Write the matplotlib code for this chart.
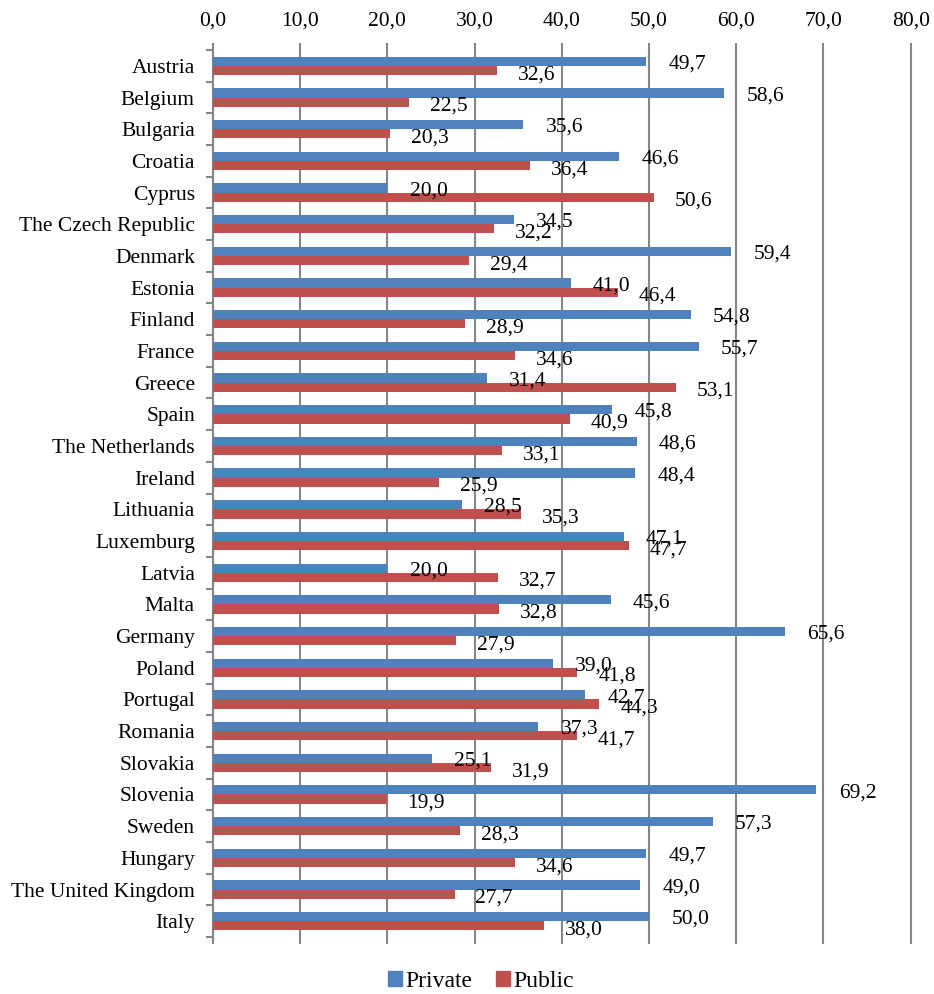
import numpy as np
import matplotlib
matplotlib.use("Agg")
import matplotlib.pyplot as plt
from matplotlib.patches import Patch

countries = ["Austria", "Belgium", "Bulgaria", "Croatia", "Cyprus", "The Czech Republic",
             "Denmark", "Estonia", "Finland", "France", "Greece", "Spain", "The Netherlands",
             "Ireland", "Lithuania", "Luxemburg", "Latvia", "Malta", "Germany", "Poland",
             "Portugal", "Romania", "Slovakia", "Slovenia", "Sweden", "Hungary",
             "The United Kingdom", "Italy"]
private = [49.7, 58.6, 35.6, 46.6, 20.0, 34.5, 59.4, 41.0, 54.8, 55.7, 31.4, 45.8, 48.6,
           48.4, 28.5, 47.1, 20.0, 45.6, 65.6, 39.0, 42.7, 37.3, 25.1, 69.2, 57.3, 49.7,
           49.0, 50.0]
public = [32.6, 22.5, 20.3, 36.4, 50.6, 32.2, 29.4, 46.4, 28.9, 34.6, 53.1, 40.9, 33.1,
          25.9, 35.3, 47.7, 32.7, 32.8, 27.9, 41.8, 44.3, 41.7, 31.9, 19.9, 28.3, 34.6,
          27.7, 38.0]
xticks = np.arange(0, 81, 10)

plt.rcParams['font.family'] = ['Liberation Serif', 'DejaVu Serif']
blue = '#4F81BD'
red = '#C0504D'
grey = '#868686'

fig = plt.figure(figsize=(9.34, 9.94), dpi=100)
ax = fig.add_axes([0.228, 0.0573, 0.747, 0.8924])

y = np.arange(len(countries))
h = 0.29
ax.barh(y - h / 2, private, height=h, color=blue, zorder=3)
ax.barh(y + h / 2, public, height=h, color=red, zorder=3)

for i in range(len(countries)):
    ax.annotate(f"{private[i]:.1f}".replace('.', ','), (private[i], y[i] - h / 2),
                xytext=(16, -2), textcoords='offset points', va='center', ha='left',
                fontsize=15.5, zorder=4)
    ax.annotate(f"{public[i]:.1f}".replace('.', ','), (public[i], y[i] + h / 2),
                xytext=(15, -3), textcoords='offset points', va='center', ha='left',
                fontsize=15.5, zorder=4)

ax.set_xlim(0, 80)
ax.set_ylim(len(countries) - 0.5, -0.5)
ax.set_xticks(xticks)
ax.set_xticklabels([f"{v:.1f}".replace('.', ',') for v in xticks], fontsize=15.5)
ax.xaxis.tick_top()
ax.tick_params(axis='x', which='both', top=True, bottom=True, labeltop=True,
               labelbottom=False, length=5, width=1.5, color=grey, pad=9)
ax.xaxis.grid(True, color=grey, linewidth=1.5, zorder=1)
for gl in ax.get_xgridlines():
    gl.set_clip_on(False)

ax.set_yticks(y)
ax.set_yticklabels(countries, fontsize=15.5)
ax.set_yticks(np.arange(len(countries) + 1) - 0.5, minor=True)
ax.tick_params(axis='y', which='major', length=0, pad=13)
ax.tick_params(axis='y', which='minor', length=5, width=1.5, color=grey)

for s in ['top', 'right', 'bottom']:
    ax.spines[s].set_visible(False)
ax.spines['left'].set_color(grey)
ax.spines['left'].set_linewidth(1.5)

handles = [Patch(color=blue, label='Private'), Patch(color=red, label='Public')]
fig.legend(handles=handles, loc='center', bbox_to_anchor=(0.515, 0.013), ncol=2,
           frameon=False, fontsize=17, handlelength=0.6, handleheight=0.6,
           handletextpad=0.15, columnspacing=1.0, borderpad=0.1)

fig.savefig('out.png', dpi=100)
